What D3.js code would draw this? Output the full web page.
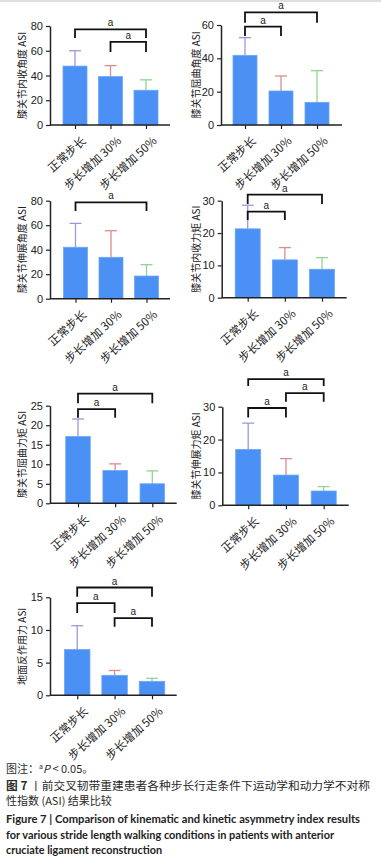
<!DOCTYPE html>
<html>
<head>
  <meta charset="utf-8">
  <title>Figure 7 ASI</title>
  <script src="https://d3js.org/d3.v7.min.js"></script>
  <style>
    body { margin: 0; background: #fff; }
    svg { display: block; }
  </style>
</head>
<body>
  <script>
    // Data
    const groups = ["正常步长", "步长增加 30%", "步长增加 50%"];

    const yTitles = [
      "膝关节内收角度 ASI", "膝关节屈曲角度 ASI", "膝关节伸展角度 ASI",
      "膝关节内收力矩 ASI", "膝关节屈曲力矩 ASI", "膝关节伸展力矩 ASI",
      "地面反作用力 ASI"
    ];

    const adductionAngle = [47.6, 39.1, 28.1];
    const adductionAngleSd = [12.4, 8.9, 8.4];
    const flexionAngle = [41.8, 20.4, 13.6];
    const flexionAngleSd = [10.6, 9.0, 19.0];
    const extensionAngle = [42.0, 33.8, 18.5];
    const extensionAngleSd = [19.5, 21.7, 9.3];
    const adductionMoment = [21.3, 11.7, 8.8];
    const adductionMomentSd = [7.3, 3.8, 3.6];
    const flexionMoment = [17.1, 8.4, 5.0];
    const flexionMomentSd = [4.5, 1.7, 3.3];
    const extensionMoment = [17.0, 9.2, 4.35];
    const extensionMomentSd = [8.0, 5.0, 1.35];
    const groundForce = [7.0, 3.06, 2.14];
    const groundForceSd = [3.65, 0.74, 0.46];

    const ticks80 = [0, 20, 40, 60, 80];
    const ticks60 = [0, 20, 40, 60];
    const ticks30 = [0, 10, 20, 30];
    const ticks25 = [0, 5, 10, 15, 20, 25];
    const ticks15 = [0, 5, 10, 15];

    // significant pairs (index of group) per panel
    const sig1 = [[0, 2], [1, 2]];
    const sig2 = [[0, 2], [0, 1]];
    const sig3 = [[0, 2]];
    const sig4 = [[0, 2], [0, 1]];
    const sig5 = [[0, 2], [0, 1]];
    const sig6 = [[0, 2], [1, 2], [0, 1]];
    const sig7 = [[0, 2], [0, 1], [1, 2]];

    // layout of each panel (pixels) + bracket levels (value units: line, leg end)
    let panels = [
      { title: yTitles[0], means: adductionAngle, sds: adductionAngleSd, ticks: ticks80, sig: sig1,
        ax: 50, xEnd: 170, yB: 125, yT: 26, c0: 75, c2: 146, bw: 24, titleX: 22,
        levels: [[77.3, 70.3], [67.1, 59]] },
      { title: yTitles[1], means: flexionAngle, sds: flexionAngleSd, ticks: ticks60, sig: sig2,
        ax: 221, xEnd: 342, yB: 125, yT: 25, c0: 245, c2: 317, bw: 24, titleX: 196,
        levels: [[67.6, 61.4], [59, 53.4]] },
      { title: yTitles[2], means: extensionAngle, sds: extensionAngleSd, ticks: ticks80, sig: sig3,
        ax: 50, xEnd: 170, yB: 298.7, yT: 200.7, c0: 75.5, c2: 146.5, bw: 24, titleX: 22,
        levels: [[78.7, 71.6]] },
      { title: yTitles[3], means: adductionMoment, sds: adductionMomentSd, ticks: ticks30, sig: sig4,
        ax: 221.7, xEnd: 346.7, yB: 297.7, yT: 200.7, c0: 247.7, c2: 322, bw: 25, titleX: 196,
        levels: [[31.9, 29], [26.6, 24]] },
      { title: yTitles[4], means: flexionMoment, sds: flexionMomentSd, ticks: ticks25, sig: sig5,
        ax: 50, xEnd: 176.7, yB: 503.3, yT: 405.7, c0: 78, c2: 152.3, bw: 24.5, titleX: 22,
        levels: [[28.1, 25.6], [24.1, 21.9]] },
      { title: yTitles[5], means: extensionMoment, sds: extensionMomentSd, ticks: ticks30, sig: sig6,
        ax: 222.3, xEnd: 348.7, yB: 505.3, yT: 406.7, c0: 248.2, c2: 323.7, bw: 25, titleX: 196,
        levels: [[38.4, 36.3], [34.1, 31.5], [29.6, 26.7]] },
      { title: yTitles[6], means: groundForce, sds: groundForceSd, ticks: ticks15, sig: sig7,
        ax: 50, xEnd: 176.7, yB: 695.3, yT: 597.3, c0: 77.2, c2: 152, bw: 25.5, titleX: 22,
        levels: [[16.5, 15.1], [14.1, 12.6], [11.8, 10.5]] }
    ];

    let barColor = "#4a90f5";
    let errColors = ["#9a9ad6", "#e08a8c", "#93d493"];
    let sansCJK = "'Noto Sans CJK SC', 'Noto Sans', sans-serif";

    let svg = d3.select("body").append("svg")
      .attr("width", 381)
      .attr("height", 863);

    // thin page border at top
    svg.append("rect").attr("x", 0).attr("y", 0).attr("width", 381).attr("height", 2).attr("fill", "#dedede");

    panels.forEach(function(p) {
      let x = d3.scalePoint().domain(groups).range([p.c0, p.c2]);
      let y = d3.scaleLinear().domain([0, d3.max(p.ticks)]).range([p.yB, p.yT]);
      let g = svg.append("g");

      // error bars (upper only)
      let errs = g.selectAll(".err").data(p.means).enter().append("g").attr("class", "err");
      errs.append("line")
        .attr("x1", (d, i) => x(groups[i])).attr("x2", (d, i) => x(groups[i]))
        .attr("y1", d => y(d)).attr("y2", (d, i) => y(d + p.sds[i]))
        .attr("stroke", (d, i) => errColors[i]).attr("stroke-width", 1.3);
      errs.append("line")
        .attr("x1", (d, i) => x(groups[i]) - 6).attr("x2", (d, i) => x(groups[i]) + 6)
        .attr("y1", (d, i) => y(d + p.sds[i])).attr("y2", (d, i) => y(d + p.sds[i]))
        .attr("stroke", (d, i) => errColors[i]).attr("stroke-width", 1.3);

      // bars
      g.selectAll(".bar").data(p.means).enter().append("rect")
        .attr("class", "bar")
        .attr("x", (d, i) => x(groups[i]) - p.bw / 2)
        .attr("y", d => y(d))
        .attr("width", p.bw)
        .attr("height", d => p.yB - y(d))
        .attr("fill", barColor)
        .attr("stroke", "#6ea6f3")
        .attr("stroke-width", 0.8);

      // y axis
      let yAxis = d3.axisLeft(y).tickValues(p.ticks).tickSize(4).tickSizeOuter(0).tickPadding(3);
      let ya = g.append("g").attr("transform", "translate(" + p.ax + ",0)").call(yAxis);
      ya.select(".domain").attr("stroke", "#222").attr("stroke-width", 1.5);
      ya.selectAll(".tick line").attr("stroke", "#222").attr("stroke-width", 1.2);
      ya.selectAll("text").attr("font-family", "'Liberation Sans', Arial, sans-serif")
        .attr("font-size", 11).attr("fill", "#222");

      // x axis
      g.append("line")
        .attr("x1", p.ax).attr("x2", p.xEnd).attr("y1", p.yB).attr("y2", p.yB)
        .attr("stroke", "#222").attr("stroke-width", 1.5);
      let xAxis = d3.axisBottom(x).tickSize(4).tickSizeOuter(0).tickFormat("");
      let xa = g.append("g").attr("transform", "translate(0," + p.yB + ")").call(xAxis);
      xa.select(".domain").remove();
      xa.selectAll(".tick line").attr("stroke", "#222").attr("stroke-width", 1.2);

      // rotated category labels
      g.selectAll(".xlab").data(groups).enter().append("text")
        .attr("class", "xlab")
        .attr("transform", d => "translate(" + (x(d) + 9) + "," + (p.yB + 14) + ") rotate(-42)")
        .attr("text-anchor", "end")
        .attr("dy", "0.35em")
        .attr("font-family", sansCJK)
        .attr("font-size", 11.5)
        .attr("fill", "#222")
        .text(d => d);

      // y title
      g.append("text")
        .attr("transform", "translate(" + p.titleX + "," + ((p.yB + p.yT) / 2) + ") rotate(-90)")
        .attr("text-anchor", "middle")
        .attr("dy", "0.35em")
        .attr("font-family", sansCJK)
        .attr("font-size", 10)
        .attr("fill", "#222")
        .text(p.title);

      // significance brackets
      p.sig.forEach(function(pair, k) {
        let x1 = x(groups[pair[0]]), x2 = x(groups[pair[1]]);
        let yl = y(p.levels[k][0]), yb = y(p.levels[k][1]);
        g.append("path")
          .attr("d", "M" + x1 + "," + yb + "V" + yl + "H" + x2 + "V" + yb)
          .attr("fill", "none").attr("stroke", "#111").attr("stroke-width", 1.8);
        g.append("text")
          .attr("x", (x1 + x2) / 2).attr("y", yl - 3)
          .attr("text-anchor", "middle")
          .attr("font-family", "'Liberation Sans', Arial, sans-serif")
          .attr("font-size", 10)
          .attr("fill", "#222")
          .text("a");
      });
    });

    // caption
    let cap = svg.append("g").attr("fill", "#2a2a2a");
    let note = cap.append("text").attr("x", 6).attr("y", 773)
      .attr("font-family", sansCJK).attr("font-size", 11);
    note.append("tspan").text("图注：");
    note.append("tspan").attr("font-size", 7).attr("dy", -4).text("a");
    note.append("tspan").attr("font-style", "italic").attr("dy", 4).text("P");
    note.append("tspan").text(" < 0.05。");

    let l2 = cap.append("text").attr("x", 6).attr("y", 790)
      .attr("font-family", sansCJK).attr("font-size", 11)
      .attr("textLength", 364).attr("lengthAdjust", "spacingAndGlyphs");
    l2.append("tspan").attr("font-weight", "bold").text("图 7 ");
    l2.append("tspan").text("丨前交叉韧带重建患者各种步长行走条件下运动学和动力学不对称");

    cap.append("text").attr("x", 6).attr("y", 805)
      .attr("font-family", sansCJK).attr("font-size", 11)
      .text("性指数 (ASI) 结果比较");

    let enLines = [
      ["Figure 7  |  Comparison of kinematic and kinetic asymmetry index results", 354],
      ["for various stride length walking conditions in patients with anterior", 328],
      ["cruciate ligament reconstruction", 156]
    ];
    enLines.forEach(function(l, i) {
      cap.append("text").attr("x", 6).attr("y", 823 + i * 15.5)
        .attr("font-family", "Lato, 'Open Sans', sans-serif")
        .attr("font-weight", "bold").attr("font-size", 11)
        .attr("fill", "#222")
        .attr("textLength", l[1]).attr("lengthAdjust", "spacingAndGlyphs")
        .text(l[0]);
    });
  </script>
</body>
</html>
